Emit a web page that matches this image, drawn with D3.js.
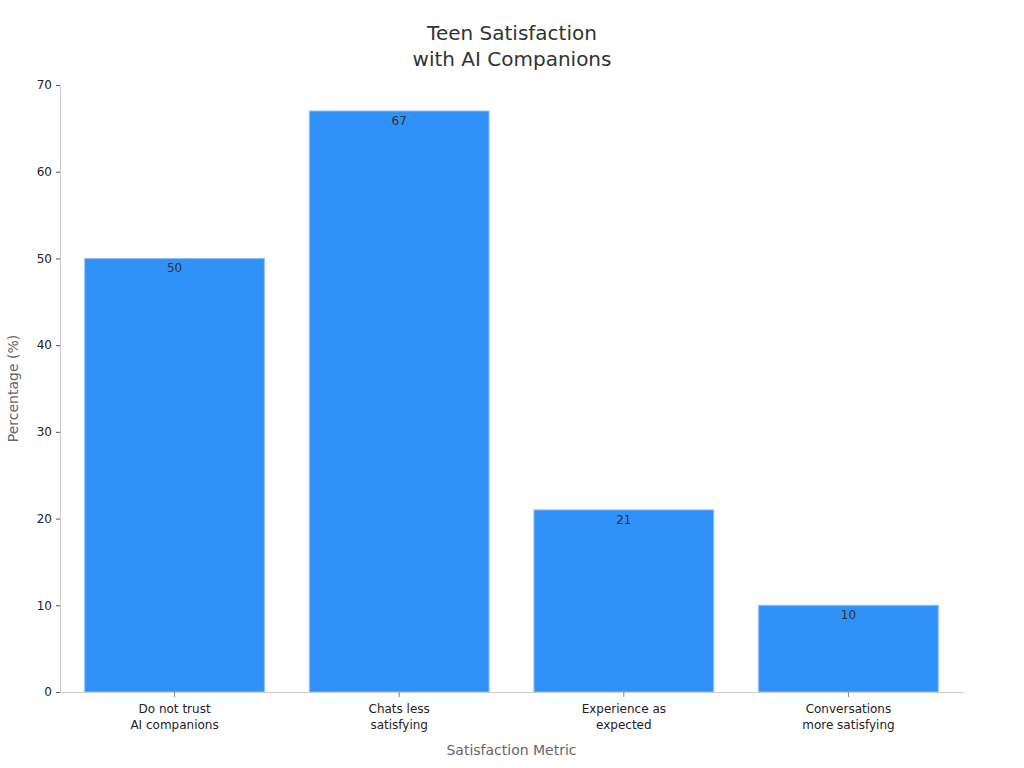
<!DOCTYPE html>
<html>
<head>
<meta charset="utf-8">
<script src="https://cdn.jsdelivr.net/npm/d3@7"></script>
<style>
  body { margin: 0; background: #fff; }
  text { font-family: "DejaVu Sans", sans-serif; }
</style>
</head>
<body>
<div id="chart"></div>
<script>
// data
const categories = ["Do not trust\nAI companions", "Chats less\nsatisfying", "Experience as\nexpected", "Conversations\nmore satisfying"];
const values = [50, 67, 21, 10];
const yTicks = [0, 10, 20, 30, 40, 50, 60, 70];

const width = 1024;
const height = 768;
const margin = {top: 85, right: 61, bottom: 77, left: 60};
const visWidth = width - margin.left - margin.right;
const visHeight = height - margin.top - margin.bottom + 1;

const svg = d3.select("#chart").append("svg")
    .attr("width", width)
    .attr("height", height);

const xscale = d3.scaleBand()
    .domain(categories)
    .range([0, visWidth])
    .paddingInner(0.2)
    .paddingOuter(0.11);

const yscale = d3.scaleLinear()
    .domain([0, 70])
    .range([visHeight, 0]);

// title
svg.append("text")
    .attr("x", width / 2)
    .attr("y", 40)
    .attr("text-anchor", "middle")
    .attr("font-size", "20px")
    .attr("fill", "#333")
    .text("Teen Satisfaction");
svg.append("text")
    .attr("x", width / 2)
    .attr("y", 66)
    .attr("text-anchor", "middle")
    .attr("font-size", "20px")
    .attr("fill", "#333")
    .text("with AI Companions");

const g = svg.append("g")
    .attr("transform", `translate(${margin.left}, ${margin.top})`);

// bars
g.selectAll("rect")
  .data(values)
  .join("rect")
    .attr("x", (d, i) => xscale(categories[i]))
    .attr("y", d => yscale(d))
    .attr("width", xscale.bandwidth())
    .attr("height", d => visHeight - yscale(d))
    .attr("fill", "#3092f9")
    .attr("stroke", "#8cc0f7")
    .attr("stroke-width", 1);

// value labels
g.selectAll(".val")
  .data(values)
  .join("text")
    .attr("class", "val")
    .attr("x", (d, i) => xscale(categories[i]) + xscale.bandwidth() / 2)
    .attr("y", d => yscale(d) + 14)
    .attr("text-anchor", "middle")
    .attr("font-size", "12px")
    .attr("fill", "#333")
    .text(d => d);

// y axis
const yAxis = g.append("g")
    .call(d3.axisLeft(yscale).tickValues(yTicks).tickSize(4).tickSizeOuter(0).tickPadding(4));
yAxis.select(".domain").attr("stroke", "#ccc");
yAxis.selectAll(".tick line").attr("stroke", "#555");
yAxis.selectAll(".tick text").attr("font-size", "12px").attr("fill", "#222")
    .attr("font-family", "DejaVu Sans");

// x axis
const xAxis = g.append("g")
    .attr("transform", `translate(0, ${visHeight})`)
    .call(d3.axisBottom(xscale).tickSize(5).tickSizeOuter(0).tickFormat(""));
xAxis.select(".domain").attr("stroke", "#ccc");
xAxis.selectAll(".tick line").attr("stroke", "#888");
xAxis.selectAll(".tick").each(function(d) {
  const lines = d.split("\n");
  const t = d3.select(this).append("text")
      .attr("text-anchor", "middle")
      .attr("font-size", "12px")
      .attr("fill", "#222")
      .attr("font-family", "DejaVu Sans");
  lines.forEach((l, i) => {
    t.append("tspan").attr("x", 0).attr("y", 21 + i * 16).text(l);
  });
});

// axis titles
svg.append("text")
    .attr("x", margin.left + visWidth / 2)
    .attr("y", 755)
    .attr("text-anchor", "middle")
    .attr("font-size", "14px")
    .attr("fill", "#666")
    .text("Satisfaction Metric");

svg.append("text")
    .attr("transform", `translate(18, ${margin.top + visHeight / 2}) rotate(-90)`)
    .attr("text-anchor", "middle")
    .attr("font-size", "14px")
    .attr("fill", "#666")
    .text("Percentage (%)");
</script>
</body>
</html>
